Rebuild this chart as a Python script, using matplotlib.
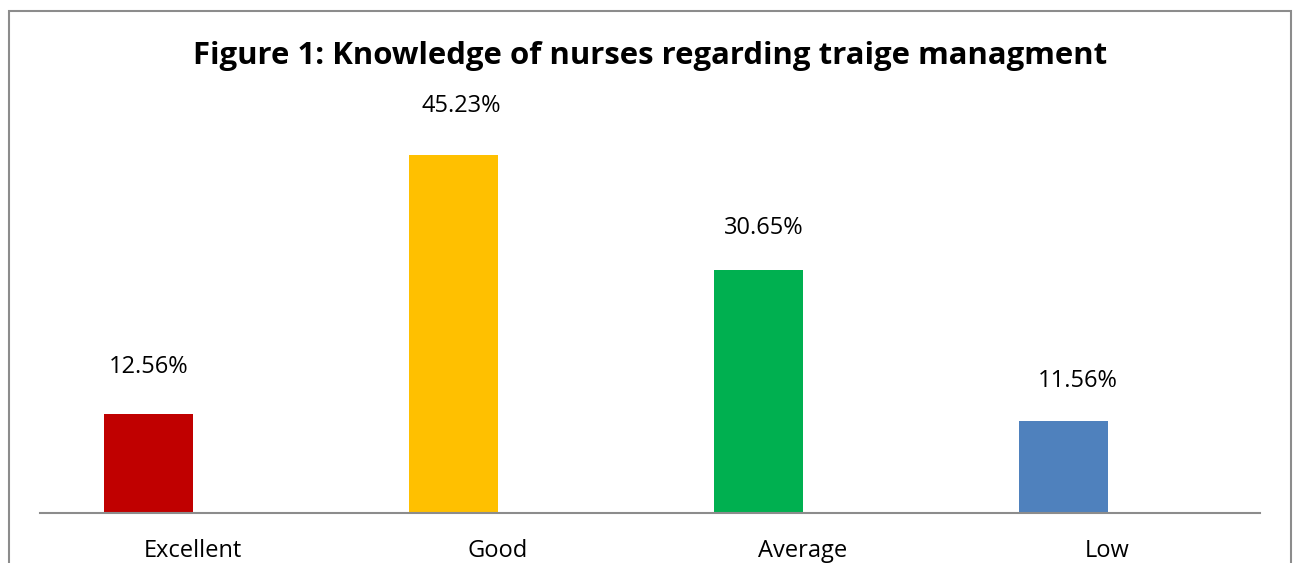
import matplotlib
matplotlib.use("Agg")
import matplotlib.pyplot as plt
from matplotlib.patches import Rectangle

categories = ["Excellent", "Good", "Average", "Low"]
values = [12.56, 45.23, 30.65, 11.56]
labels = ["12.56%", "45.23%", "30.65%", "11.56%"]
colors = ["#C00000", "#FFC000", "#00B050", "#4F81BD"]
title = "Figure 1: Knowledge of nurses regarding traige managment"
label_dx_pt = [0, 6, 4.3, 10.4]   # manual nudges of data labels (points)
label_dy_pt = [33.5, 35, 30.6, 28.8]

W, H = 1293, 563
fig = plt.figure(figsize=(W / 100, H / 100), dpi=100)
plt.rcParams['font.family'] = ['Open Sans', 'DejaVu Sans']

ax = fig.add_axes([40 / W, (H - 513) / H, 1220 / W, (513 - 117) / H])
x = list(range(len(categories)))
bw = 0.29
bars = ax.bar([i - bw for i in x], values, width=bw, align="edge",
              color=colors, zorder=2)
ax.set_xlim(-0.5, 3.5)
ax.set_ylim(0, 50)
for b, lab, dx, dy in zip(bars, labels, label_dx_pt, label_dy_pt):
    ax.annotate(lab, (b.get_x() + b.get_width() / 2, b.get_height()),
                xytext=(dx, dy), textcoords="offset points",
                ha="center", va="center", fontsize=17, color="#000000")
for s in ["top", "right", "left"]:
    ax.spines[s].set_visible(False)
ax.spines["bottom"].set_color("#8C8C8C")
ax.spines["bottom"].set_linewidth(1.5)
ax.set_yticks([])
ax.set_xticks(x)
ax.set_xticklabels(categories, fontsize=17)
ax.tick_params(axis="x", length=0, pad=18.5)

fig.text(650 / W, 1 - 56 / H, title, ha="center", va="center",
         fontsize=22.4, fontweight="bold")

fig.patches.append(Rectangle((8.5 / W, -0.1), (1291 - 8.5) / W, 1.1 - 11.5 / H,
                             transform=fig.transFigure, fill=False,
                             edgecolor="#8C8C8C", linewidth=1.5))

fig.savefig("out.png", dpi=100)
